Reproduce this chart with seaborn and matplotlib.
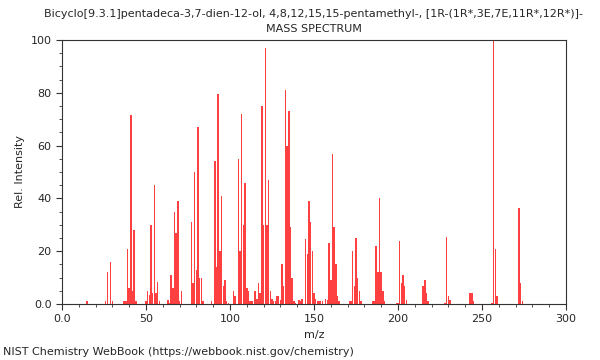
import numpy as np
import pandas as pd
import seaborn as sns
import matplotlib.pyplot as plt
from matplotlib.ticker import MultipleLocator, FuncFormatter

# Peak list (m/z, relative intensity)
mz = [15, 26, 27, 29, 30, 37, 38, 39, 40, 41, 42, 43, 44,
      50, 51, 52, 53, 54, 55, 56, 57, 58, 63, 64, 65, 66, 67, 68, 69, 70, 71,
      77, 78, 79, 80, 81, 82, 83, 84, 89, 91, 92, 93, 94, 95, 96, 97, 98, 99,
      102, 103, 105, 106, 107, 108, 109, 110, 111, 112, 113, 115, 116, 117, 118,
      119, 120, 121, 122, 123, 124, 125, 126, 127, 128, 129, 130, 131, 132,
      133, 134, 135, 136, 137, 138, 139, 141, 142, 143, 145, 146, 147, 148,
      149, 150, 151, 152, 153, 154, 155, 157, 158, 159, 160, 161, 162, 163,
      164, 165, 171, 172, 173, 174, 175, 176, 177, 178, 185, 186, 187, 188,
      189, 190, 191, 192, 199, 200, 201, 202, 203, 204, 205, 215, 216, 217,
      218, 228, 229, 230, 231, 243, 244, 245, 256, 257, 258, 259, 272, 273, 274]
intensity = [1, 1, 12, 16, 1, 1, 1, 21, 6, 71.5, 5, 28, 1,
             1, 5, 3.5, 30, 4, 45, 4, 8.5, 1, 1.5, 0.5, 11, 6, 35, 27, 39, 1, 5,
             31, 8, 50, 13, 67, 10, 10, 1, 1, 54, 14, 79.5, 20, 41, 7, 9, 1, 0.5,
             5, 3, 55, 20, 72, 30, 46, 6, 5, 1, 1, 5, 2, 8, 4,
             75, 30, 97, 30, 47, 5, 2, 1, 1, 3, 3, 1.5, 15, 7,
             81, 60, 73, 29, 10, 1, 0.5, 1.5, 1, 2, 24.5, 19, 39, 31,
             20, 4, 2, 1, 1, 1, 1, 2, 1.5, 23, 9, 57, 29, 15,
             3, 1, 1, 1, 20, 7, 25, 10, 5, 1, 1, 1, 22, 12,
             40, 12, 5, 1, 0.5, 0.5, 24, 8, 11, 7, 1.5, 7, 9, 4,
             1, 0.5, 25.5, 3, 1.5, 4, 4, 1, 0.5, 100, 21, 3, 36.5, 8, 1]

title = ("Bicyclo[9.3.1]pentadeca-3,7-dien-12-ol, 4,8,12,15,15-pentamethyl-, "
         "[1R-(1R*,3E,7E,11R*,12R*)]-\nMASS SPECTRUM")


def zero_dot(v, pos):
    # NIST style: first tick shows "0.0", the rest plain integers
    return "0.0" if v == 0 else "%d" % v


sns.set_style("ticks")
plt.rcParams['font.family'] = ['DejaVu Sans']

df = pd.DataFrame({"mz": mz, "intensity": intensity})

fig = plt.figure(figsize=(6, 3.6), dpi=100)
ax = fig.add_axes([0.1033, 0.1556, 0.84, 0.7333])

sns.barplot(data=df, x="mz", y="intensity", native_scale=True, orient="x",
            color="#ff4040", saturation=1, width=0.9, linewidth=0,
            errorbar=None, ax=ax)

ax.set_xlim(0, 300)
ax.set_ylim(0, 100)
ax.xaxis.set_major_locator(MultipleLocator(50))
ax.xaxis.set_minor_locator(MultipleLocator(10))
ax.yaxis.set_major_locator(MultipleLocator(20))
ax.yaxis.set_minor_locator(MultipleLocator(5))
ax.xaxis.set_major_formatter(FuncFormatter(zero_dot))
ax.yaxis.set_major_formatter(FuncFormatter(zero_dot))
ax.tick_params(axis="both", which="major", labelsize=8, length=4, width=0.8,
               direction="out", color="#333333")
ax.tick_params(axis="both", which="minor", length=2, width=0.6,
               direction="out", color="#333333")
for s in ax.spines.values():
    s.set_visible(True)
    s.set_linewidth(0.8)
    s.set_color("#333333")

ax.set_xlabel("m/z", fontsize=8)
ax.set_ylabel("Rel. Intensity", fontsize=8)
ax.set_title(title, fontsize=8, linespacing=1.6)
fig.text(0.005, 0.008, "NIST Chemistry WebBook (https://webbook.nist.gov/chemistry)",
         fontsize=8, ha="left", va="bottom")

fig.savefig("out.png", dpi=100)
